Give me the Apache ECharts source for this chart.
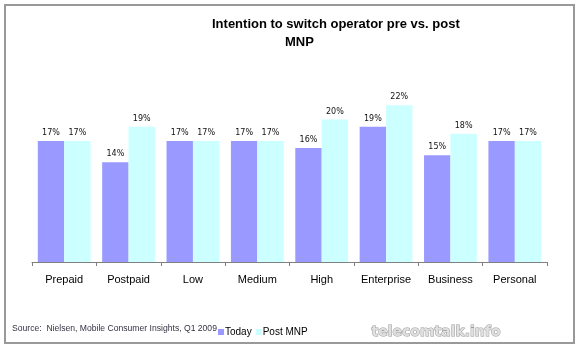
<!DOCTYPE html>
<html><head><meta charset="utf-8">
<script src="https://cdn.jsdelivr.net/npm/echarts@6/dist/echarts.min.js"></script>
<style>html,body{margin:0;padding:0;background:#fff}#c{width:579px;height:364px}</style>
</head><body><div id="c"></div>
<script>
const categories = ['Prepaid','Postpaid','Low','Medium','High','Enterprise','Business','Personal'];
const today = [17,14,17,17,16,19,15,17];
const postMNP = [17,19,17,17,20,22,18,17];
const seriesNames = ['Today','Post MNP'];

const chart = echarts.init(document.getElementById('c'), null, {renderer:'canvas'});
const lbl = {show:true, position:'top', distance:4, formatter:'{c}%', fontFamily:'DejaVu Sans', fontSize:8, color:'#111'};
chart.setOption({
  animation:false,
  backgroundColor:'#fff',
  title:[
    {text:'Intention to switch operator pre vs. post', left:207, top:13, textStyle:{fontFamily:'Liberation Sans, Arial', fontWeight:'bold', fontSize:13, color:'#000'}},
    {text:'MNP', left:280, top:31, textStyle:{fontFamily:'Liberation Sans, Arial', fontWeight:'bold', fontSize:13, color:'#000'}}
  ],
  legend:{data:seriesNames, left:213, top:322, itemWidth:6, itemHeight:6, itemGap:4, icon:'rect',
    textStyle:{fontFamily:'Liberation Sans, Arial', fontSize:10, color:'#000', padding:[0,0,0,-4]}},
  grid:{left:32, right:32, top:84, bottom:102},
  xAxis:{type:'category', data:categories,
    axisLine:{lineStyle:{color:'#808080', width:1}},
    axisTick:{show:true, length:4, lineStyle:{color:'#808080'}},
    axisLabel:{interval:0, margin:12, fontFamily:'Liberation Sans, Arial', fontSize:11, color:'#000'}},
  yAxis:{type:'value', min:0, max:25, show:false, splitLine:{show:false}},
  series:[
    {name:seriesNames[0], type:'bar', data:today, barGap:'0%', barCategoryGap:'18%', itemStyle:{color:'#9999FF'}, label:lbl},
    {name:seriesNames[1], type:'bar', data:postMNP, itemStyle:{color:'#CCFFFF'}, label:lbl}
  ],
  graphic:[
    {type:'rect', shape:{x:5, y:5, width:569, height:338}, style:{fill:'none', stroke:'#999', lineWidth:2}, silent:true},
    {type:'text', left:12, top:324, style:{text:'Source:  Nielsen, Mobile Consumer Insights, Q1 2009', font:'8.6px "Liberation Sans", Arial', fill:'#333344'}},
    {type:'text', left:371, top:325, style:{text:'telecomtalk.info', font:'bold 14px "DejaVu Sans"', fill:'#e0e0e0', stroke:'#999', lineWidth:1}}
  ]
});
</script></body></html>
